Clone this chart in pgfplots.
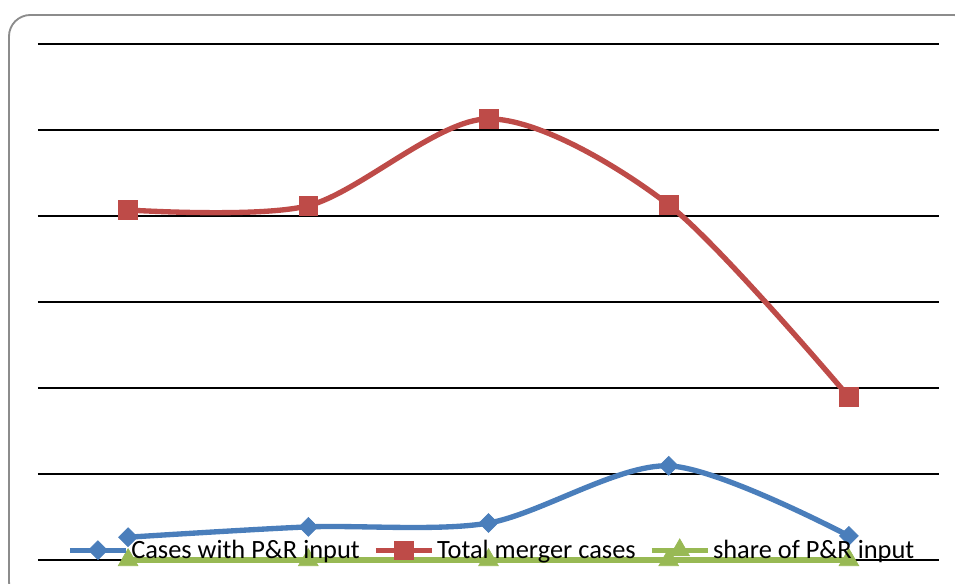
\documentclass[border=0pt]{standalone}
\usepackage{fontspec}
\setmainfont{Carlito}
\usepackage{pgfplots}
\pgfplotsset{compat=1.18}
\definecolor{xblue}{HTML}{4A7EBB}
\definecolor{xred}{HTML}{BE4B48}
\definecolor{xgreen}{HTML}{98B954}
\begin{document}
\begin{tikzpicture}[x=0.75pt,y=0.75pt]
\useasboundingbox (0,0) rectangle (955,583);
\begin{scope}
\clip (0,0) rectangle (955,583);
\draw[color=black!45, line width=1.4pt, rounded corners=16pt] (9,568) rectangle (975,-20);
\end{scope}
\begin{axis}[
  at={(28.5pt,17.25pt)}, anchor=south west,
  scale only axis, width=675.75pt, height=387pt,
  xmin=0, xmax=5, ymin=0, ymax=120,
  ytick={0,20,...,120}, yticklabels={,,,,,,,}, xtick=\empty,
  ymajorgrids, grid style={black, line width=1.3pt},
  major tick length=0pt,
  axis line style={draw=none},
  clip=false,
  legend columns=3,
  legend style={at={(0.504,0.019)}, anchor=center, draw=none, fill=none,
    font=\fontsize{19.8pt}{22pt}\selectfont,
    /tikz/every even column/.append style={column sep=8pt}},
  legend image code/.code={\draw[mark repeat=2,mark phase=2,#1] plot coordinates {(0pt,0pt)(21pt,0pt)(42pt,0pt)};},
]
\addplot[xblue, line width=4pt, smooth, mark=square*, mark size=5pt, mark options={rotate=45, line width=0.5pt}]
  coordinates {(0.5,5.3) (1.5,7.7) (2.5,8.6) (3.5,21.9) (4.5,5.6)};
\addlegendentry{Cases with P\&R input}
\addplot[xred, line width=4pt, smooth, mark=square*, mark size=7pt, mark options={line width=0.5pt}]
  coordinates {(0.5,81.4) (1.5,82.4) (2.5,102.6) (3.5,82.6) (4.5,37.9)};
\addlegendentry{Total merger cases}
\addplot[xgreen, line width=4pt, smooth, mark=triangle*, mark size=8.5pt, mark options={line width=0.5pt}]
  coordinates {(0.5,0) (1.5,0) (2.5,0) (3.5,0) (4.5,0)};
\addlegendentry{share of P\&R input}
\end{axis}
\end{tikzpicture}
\end{document}
